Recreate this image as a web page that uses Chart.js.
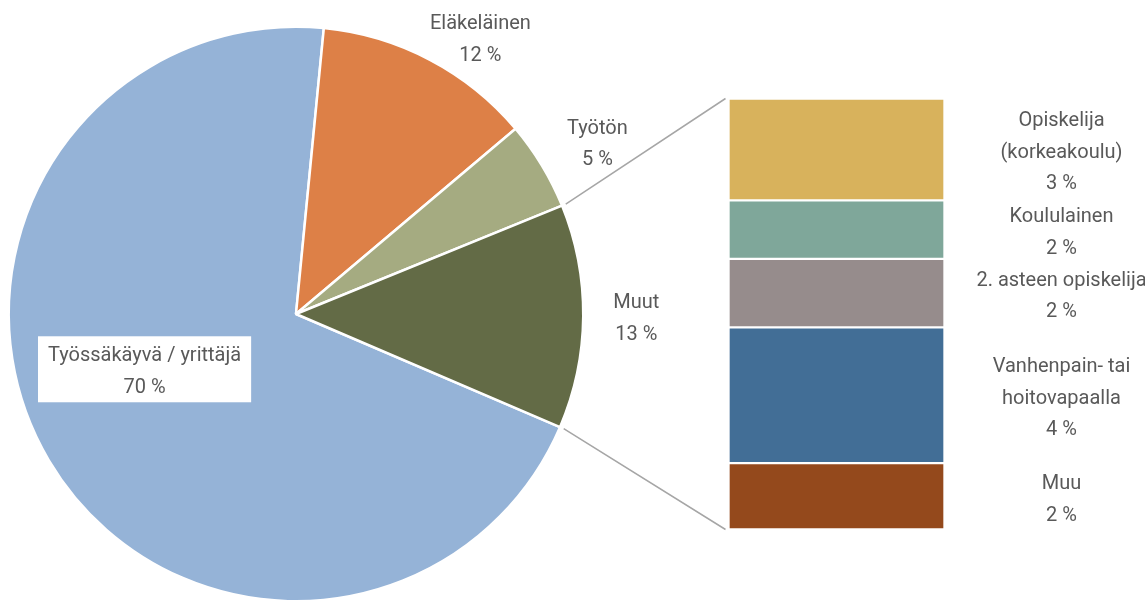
<!DOCTYPE html>
<html>
<head>
<meta charset="utf-8">
<script src="https://cdn.jsdelivr.net/npm/chart.js@4"></script>
<style>
  html, body { margin: 0; padding: 0; background: #fff; overflow: hidden; }
  #wrap { position: relative; width: 1145px; height: 600px; overflow: hidden; }
  canvas { position: absolute; left: 0; top: 0; }
</style>
</head>
<body>
<div id="wrap">
  <canvas id="pieChart" width="1145" height="610"></canvas>
  <canvas id="barChart" width="1145" height="600"></canvas>
</div>
<script>
// piirakan luokat ja osuudet (%)
var pieLabels = [["Työssäkäyvä / yrittäjä"], ["Eläkeläinen"], ["Työtön"], ["Muut"]];
var pieValues = [70.1, 12.3, 5.0, 12.6];
var pieColors = ["#95B3D7", "#DD8047", "#A5AB81", "#636B46"];

// "Muut"-palkin osat, alhaalta ylös
var barLabels = [["Muu"], ["Vanhenpain- tai", "hoitovapaalla"], ["2. asteen opiskelija"], ["Koululainen"], ["Opiskelija", "(korkeakoulu)"]];
var barValues = [1.94, 3.97, 2.0, 1.71, 2.98];
var barColors = ["#94491C", "#426E96", "#968C8C", "#7FA79A", "#D8B25C"];

var textColor = "#595959";
var fontCss = "20px Roboto";
var lineH = 31.5;
var textShift = 3.5;

// tekstin sijainti: kulman siirto (astetta) ja etäisyys säteestä
var piePlace = [
  { da: 10.9, f: 0.56, box: true },
  { da: 5.9, f: 1.16 },
  { da: 1.3, f: 1.21 },
  { da: -0.3, f: 1.185 }
];

function drawLines(ctx, lines, x, y) {
  var top = y - (lines.length - 1) * lineH / 2 + textShift;
  lines.forEach(function (t, i) {
    ctx.fillText(t, x, top + i * lineH);
  });
}

var pieLabelPlugin = {
  id: "pieLabels",
  afterDatasetsDraw: function (chart) {
    var ctx = chart.ctx;
    var meta = chart.getDatasetMeta(0);
    ctx.save();
    ctx.font = fontCss;
    ctx.textAlign = "center";
    ctx.textBaseline = "middle";
    meta.data.forEach(function (arc, i) {
      var p = piePlace[i];
      var a = (arc.startAngle + arc.endAngle) / 2 + p.da * Math.PI / 180;
      var d = arc.outerRadius * p.f;
      var x = arc.x + Math.cos(a) * d;
      var y = arc.y + Math.sin(a) * d;
      var lines = pieLabels[i].concat([Math.round(pieValues[i]) + " %"]);
      if (p.box) {
        var w = 0;
        lines.forEach(function (t) { w = Math.max(w, ctx.measureText(t).width); });
        var h = 66;
        ctx.fillStyle = "#fff";
        ctx.fillRect(x - w / 2 - 10, y - h / 2 + 1, w + 20, h);
      }
      ctx.fillStyle = textColor;
      drawLines(ctx, lines, x, y);
    });
    ctx.restore();
  }
};

var pieChart = new Chart(document.getElementById("pieChart"), {
  type: "pie",
  data: {
    labels: pieLabels.map(function (l) { return l.join(" "); }),
    datasets: [{
      data: pieValues,
      backgroundColor: pieColors,
      borderColor: "#fff",
      borderWidth: 2.5
    }]
  },
  options: {
    responsive: false,
    animation: false,
    rotation: 113.2,
    layout: { padding: { left: 7.5, top: 25.5, right: 560.5, bottom: 7.5 } },
    plugins: { legend: { display: false }, tooltip: { enabled: false } }
  },
  plugins: [pieLabelPlugin]
});

var barExtras = {
  id: "barExtras",
  afterDatasetsDraw: function (chart) {
    var ctx = chart.ctx;
    ctx.save();
    // yhdysviivat piirakasta palkkiin
    var muut = pieChart.getDatasetMeta(0).data[3];
    var topBar = chart.getDatasetMeta(barValues.length - 1).data[0];
    var botBar = chart.getDatasetMeta(0).data[0];
    var left = topBar.x - topBar.width / 2;
    var r = muut.outerRadius + 4;
    ctx.strokeStyle = "#A6A6A6";
    ctx.lineWidth = 1.5;
    ctx.beginPath();
    ctx.moveTo(muut.x + Math.cos(muut.startAngle) * r, muut.y + Math.sin(muut.startAngle) * r);
    ctx.lineTo(left - 3, topBar.y);
    ctx.moveTo(muut.x + Math.cos(muut.endAngle) * r, muut.y + Math.sin(muut.endAngle) * r);
    ctx.lineTo(left - 3, botBar.base);
    ctx.stroke();

    // palkin tekstit
    ctx.font = fontCss;
    ctx.textAlign = "center";
    ctx.textBaseline = "middle";
    ctx.fillStyle = textColor;
    barValues.forEach(function (v, i) {
      var el = chart.getDatasetMeta(i).data[0];
      var x = el.x + el.width / 2 + 117;
      var y = (el.y + el.base) / 2;
      drawLines(ctx, barLabels[i].concat([Math.round(v) + " %"]), x, y);
    });
    ctx.restore();
  }
};

var barTotal = barValues.reduce(function (s, v) { return s + v; }, 0);

new Chart(document.getElementById("barChart"), {
  type: "bar",
  data: {
    labels: ["Muut"],
    datasets: barValues.map(function (v, i) {
      return {
        label: barLabels[i].join(" "),
        data: [v],
        backgroundColor: barColors[i],
        borderColor: "#fff",
        borderWidth: 1.5,
        borderSkipped: false,
        barPercentage: 1,
        categoryPercentage: 1
      };
    })
  },
  options: {
    responsive: false,
    animation: false,
    layout: { padding: { left: 728.5, right: 200.5, top: 98.5, bottom: 70.5 } },
    scales: {
      x: { stacked: true, display: false },
      y: { stacked: true, display: false, min: 0, max: barTotal }
    },
    plugins: { legend: { display: false }, tooltip: { enabled: false } }
  },
  plugins: [barExtras]
});
</script>
</body>
</html>
